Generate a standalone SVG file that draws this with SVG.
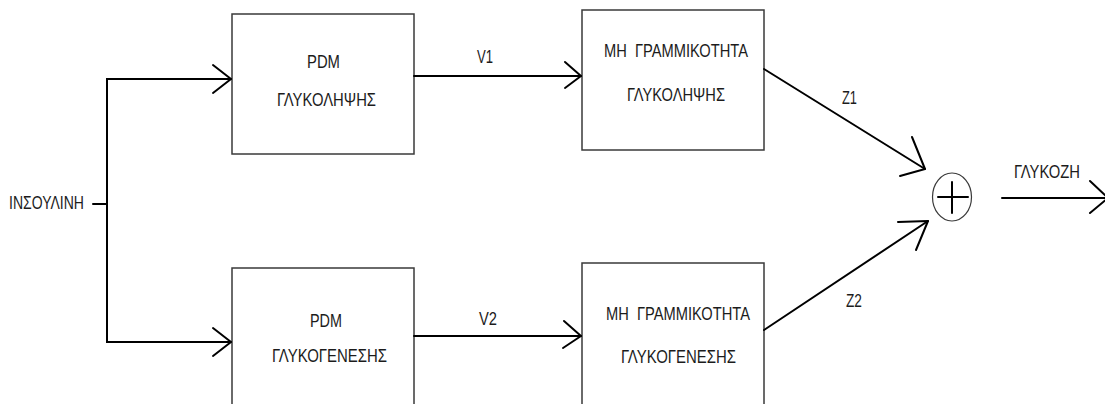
<svg xmlns="http://www.w3.org/2000/svg" width="1105" height="404" viewBox="0 0 1105 404">
  <style>
    .box { fill: #ffffff; stroke: #3a3a3a; stroke-width: 1.5; }
    .wire { fill: none; stroke: #000000; stroke-width: 2; stroke-linecap: round; stroke-linejoin: miter; }
    .head { fill: none; stroke: #000000; stroke-width: 2; stroke-linecap: round; stroke-linejoin: round; }
    .lbl { font-family: "Liberation Sans", Arial, sans-serif; font-size: 18.5px; fill: #1c1c1c; }
  </style>
  <rect width="1105" height="404" fill="#ffffff"/>

  <!-- input label -->
  <g id="input">
    <text class="lbl" x="9" y="209" textLength="75" lengthAdjust="spacingAndGlyphs">ΙΝΣΟΥΛΙΝΗ</text>
  </g>

  <!-- blocks -->
  <g id="pdm-glykolipsis">
    <rect class="box" x="232" y="14" width="182" height="140"/>
    <text class="lbl" x="307" y="68" textLength="33" lengthAdjust="spacingAndGlyphs">PDM</text>
    <text class="lbl" x="277" y="106" textLength="99" lengthAdjust="spacingAndGlyphs">ΓΛΥΚΟΛΗΨΗΣ</text>
  </g>

  <g id="pdm-glykogenesis">
    <rect class="box" x="232" y="268" width="182" height="150"/>
    <text class="lbl" x="310" y="327" textLength="32" lengthAdjust="spacingAndGlyphs">PDM</text>
    <text class="lbl" x="272" y="362" textLength="115" lengthAdjust="spacingAndGlyphs">ΓΛΥΚΟΓΕΝΕΣΗΣ</text>
  </g>

  <g id="nonlin-glykolipsis">
    <rect class="box" x="582" y="10" width="182" height="140"/>
    <text class="lbl" x="604" y="57" textLength="144" lengthAdjust="spacingAndGlyphs">ΜΗ&#160; ΓΡΑΜΜΙΚΟΤΗΤΑ</text>
    <text class="lbl" x="627" y="101" textLength="98" lengthAdjust="spacingAndGlyphs">ΓΛΥΚΟΛΗΨΗΣ</text>
  </g>

  <g id="nonlin-glykogenesis">
    <rect class="box" x="582" y="263" width="182" height="150"/>
    <text class="lbl" x="606" y="320" textLength="144" lengthAdjust="spacingAndGlyphs">ΜΗ&#160; ΓΡΑΜΜΙΚΟΤΗΤΑ</text>
    <text class="lbl" x="621" y="363" textLength="115" lengthAdjust="spacingAndGlyphs">ΓΛΥΚΟΓΕΝΕΣΗΣ</text>
  </g>

  <!-- summing junction -->
  <g id="sum">
    <ellipse cx="952" cy="197" rx="19.5" ry="24" fill="#ffffff" stroke="#3a3a3a" stroke-width="1.2"/>
    <line class="wire" x1="938" y1="197" x2="968" y2="197"/>
    <line class="wire" x1="952" y1="182" x2="952" y2="213"/>
  </g>

  <!-- connectors -->
  <g id="connectors">
    <!-- insulin split -->
    <line class="wire" x1="93" y1="204" x2="107" y2="204"/>
    <polyline class="wire" points="231,79 107,79 107,342 231,342"/>
    <polyline class="head" points="213,65 231,79 213,93"/>
    <polyline class="head" points="213,328 231,342 213,356"/>

    <!-- V1 / V2 -->
    <line class="wire" x1="414" y1="76" x2="581" y2="76"/>
    <polyline class="head" points="565,62 581,76 565,88"/>
    <line class="wire" x1="414" y1="336" x2="581" y2="336"/>
    <polyline class="head" points="564,321 581,336 563,348"/>

    <!-- Z1 / Z2 into the sum -->
    <line class="wire" x1="764" y1="69" x2="925" y2="169"/>
    <polyline class="head" points="912,137 925,169 900,176"/>
    <line class="wire" x1="764" y1="330" x2="928" y2="221"/>
    <polyline class="head" points="898,222 928,221 916,250"/>

    <!-- output -->
    <line class="wire" x1="1002" y1="198" x2="1108" y2="198"/>
    <polyline class="head" points="1090,181 1108,198 1090,213"/>
  </g>

  <!-- signal labels -->
  <g id="signal-labels">
    <text class="lbl" x="477" y="63" textLength="16" lengthAdjust="spacingAndGlyphs">V1</text>
    <text class="lbl" x="479" y="325" textLength="18" lengthAdjust="spacingAndGlyphs">V2</text>
    <text class="lbl" x="842" y="104" textLength="15" lengthAdjust="spacingAndGlyphs">Z1</text>
    <text class="lbl" x="846" y="307" textLength="16" lengthAdjust="spacingAndGlyphs">Z2</text>
    <text class="lbl" x="1014" y="178" textLength="66" lengthAdjust="spacingAndGlyphs">ΓΛΥΚΟΖΗ</text>
  </g>
</svg>
